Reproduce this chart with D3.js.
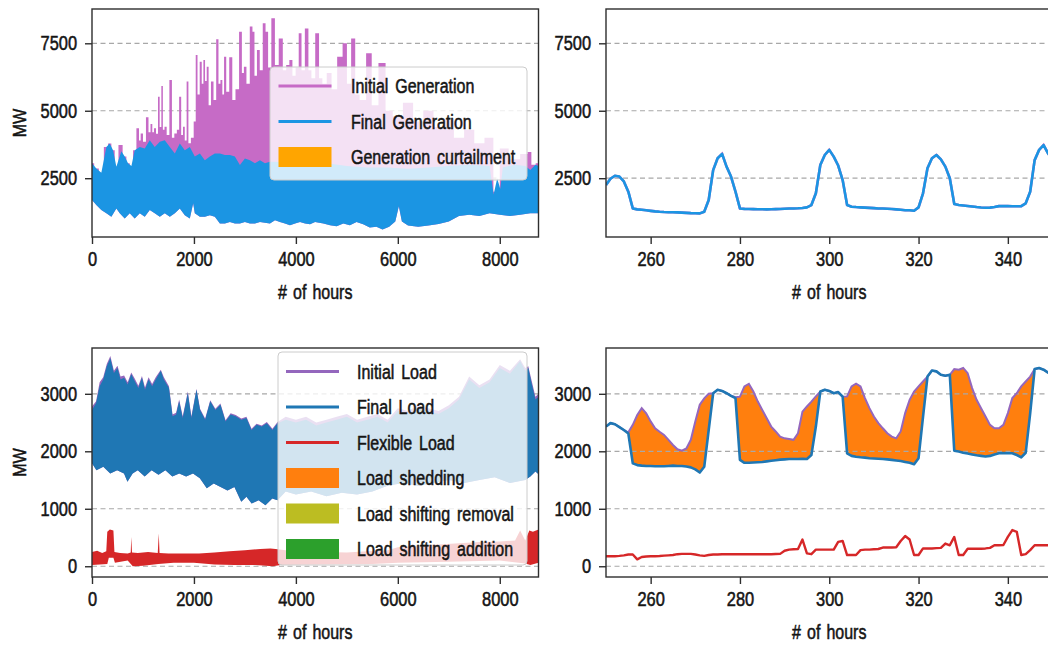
<!DOCTYPE html>
<html>
<head>
<meta charset="utf-8">
<script src="https://cdn.jsdelivr.net/npm/d3@7"></script>
<style>
  html, body { margin: 0; padding: 0; background: #fff; }
  svg { display: block; }
  text { font-family: "Liberation Sans", Arial, sans-serif; fill: #151515; stroke: #151515; stroke-width: 0.55px; }
</style>
</head>
<body>
<svg id="chart" width="1048" height="646"></svg>
<script>
// ---------- Year-long generation (envelopes of the hourly series, MW) ----------
const genInitialPeakHours = [0, 85, 183, 282, 347, 413, 478, 560, 642, 707, 773, 838, 904, 940, 970, 1030, 1087, 1130, 1166, 1200, 1231, 1280, 1310, 1345, 1376, 1405, 1440, 1490, 1546, 1590, 1640, 1690, 1729, 1770, 1800, 1840, 1873, 1910, 1970, 2020, 2050, 2090, 2136, 2170, 2201, 2235, 2266, 2310, 2358, 2410, 2463, 2500, 2540, 2575, 2607, 2660, 2725, 2780, 2850, 2921, 2960, 3000, 3060, 3131, 3165, 3210, 3262, 3320, 3380, 3430, 3480, 3557, 3620, 3707, 3780, 3840, 3904, 3960, 4030, 4081, 4140, 4212, 4280, 4330, 4429, 4480, 4560, 4650, 4750, 4870, 4963, 5040, 5128, 5200, 5300, 5456, 5520, 5720, 5800, 6000, 6200, 6400, 6600, 6800, 7000, 7200, 7400, 7600, 7800, 7950, 8050, 8300, 8500, 8590, 8650, 8760];
const genInitialPeakMW = [3050, 2860, 2700, 3660, 3790, 3540, 2920, 3730, 3300, 3050, 2950, 3540, 4350, 3900, 4160, 3850, 4760, 4200, 4510, 4200, 4350, 4150, 5520, 4400, 5920, 4300, 4410, 4100, 6140, 4000, 4160, 4300, 5520, 4100, 4410, 3900, 6080, 3800, 4000, 4600, 7070, 5600, 6820, 6000, 6880, 6100, 6630, 5200, 6080, 5400, 7650, 6000, 6140, 5600, 7000, 5700, 6980, 5400, 5800, 7930, 6400, 6630, 6000, 8120, 7930, 6300, 7250, 6500, 8240, 7930, 6600, 8430, 6700, 7680, 6500, 6700, 6880, 6300, 6600, 7870, 6500, 8050, 6500, 6200, 7870, 6200, 6000, 6400, 5800, 7000, 7500, 6000, 7680, 5600, 5400, 7130, 5200, 6770, 5000, 4800, 5300, 4600, 5000, 4400, 4700, 4000, 4300, 3800, 4000, 2000, 3600, 3200, 3400, 3470, 3000, 3050];

const genFinalHighHours = [0, 85, 183, 282, 347, 413, 478, 576, 642, 707, 773, 838, 937, 1035, 1133, 1231, 1330, 1428, 1527, 1625, 1723, 1821, 1919, 2017, 2116, 2214, 2312, 2410, 2509, 2607, 2705, 2803, 2902, 3000, 3098, 3197, 3295, 3393, 3491, 3700, 4000, 4300, 4600, 5000, 5400, 5800, 6200, 6600, 7000, 7400, 7800, 7880, 7950, 8010, 8060, 8300, 8500, 8600, 8700, 8760];
const genFinalHighMW = [3050, 2860, 2700, 3660, 3790, 3540, 2920, 3500, 3300, 3050, 2950, 3540, 3660, 3600, 3910, 3660, 3850, 3910, 3660, 3420, 3790, 3540, 3660, 3300, 3420, 3170, 3300, 3420, 3420, 3360, 3360, 3300, 2990, 3230, 3170, 3050, 3170, 3050, 3110, 3100, 3150, 3000, 3050, 2950, 2900, 2900, 2850, 2900, 2950, 3000, 2950, 1900, 2500, 2100, 2900, 3000, 2950, 2800, 3000, 2950];

const genFinalLowHours = [0, 85, 183, 282, 380, 478, 544, 642, 740, 838, 937, 1035, 1133, 1231, 1330, 1428, 1527, 1625, 1723, 1821, 1919, 1985, 2017, 2116, 2214, 2312, 2410, 2509, 2607, 2705, 2803, 2902, 3000, 3098, 3197, 3295, 3393, 3491, 3590, 3688, 3786, 3884, 3983, 4081, 4180, 4278, 4376, 4540, 4670, 4800, 4930, 5060, 5190, 5320, 5450, 5580, 5700, 5830, 5950, 6020, 6080, 6200, 6400, 6600, 6800, 7000, 7200, 7400, 7600, 7800, 8000, 8200, 8400, 8600, 8760];
const genFinalLowMW = [1690, 1510, 1320, 1200, 1070, 1380, 1200, 1010, 1200, 1010, 1200, 1070, 1320, 1200, 1070, 1200, 1070, 1200, 1380, 1130, 1010, 1570, 1200, 1070, 1070, 1130, 1070, 820, 820, 880, 820, 820, 880, 820, 820, 880, 850, 820, 940, 880, 820, 760, 820, 880, 820, 790, 880, 820, 760, 720, 820, 760, 880, 790, 670, 700, 600, 700, 900, 1460, 900, 750, 700, 750, 800, 900, 1100, 1150, 1100, 1200, 1150, 1100, 1150, 1200, 1200];

// ---------- Year-long load (envelopes of the hourly series, MW) ----------
const loadHighHours = [0, 80, 150, 220, 290, 360, 430, 500, 560, 630, 700, 770, 840, 910, 980, 1040, 1110, 1180, 1250, 1350, 1410, 1510, 1580, 1650, 1710, 1780, 1880, 1950, 2050, 2120, 2220, 2320, 2420, 2520, 2620, 2720, 2820, 2930, 3030, 3130, 3230, 3330, 3430, 3540, 3640, 3800, 4000, 4200, 4400, 4600, 4800, 5000, 5200, 5400, 5600, 5800, 6000, 6200, 6400, 6600, 6800, 7000, 7200, 7400, 7600, 7800, 8000, 8200, 8400, 8500, 8560, 8620, 8700, 8760];
const finalLoadHighMW = [2720, 2840, 3130, 3250, 3480, 3620, 3360, 3450, 3250, 3280, 3160, 3340, 3220, 3100, 3280, 3070, 3250, 3130, 3250, 3400, 3250, 3100, 2610, 2640, 2870, 2580, 3010, 2580, 3070, 2720, 2550, 2870, 2720, 2810, 2520, 2640, 2610, 2550, 2580, 2370, 2460, 2430, 2490, 2370, 2490, 2550, 2500, 2550, 2450, 2500, 2550, 2600, 2500, 2550, 2600, 2500, 2700, 2650, 2750, 2700, 2650, 2750, 2900, 3250, 3100, 3200, 3450, 3350, 3570, 3400, 3450, 3200, 2900, 2950];
const initialLoadHighMW = [2780, 2870, 3200, 3290, 3520, 3660, 3400, 3490, 3300, 3320, 3200, 3370, 3260, 3140, 3310, 3110, 3290, 3170, 3290, 3420, 3290, 3130, 2640, 2670, 2900, 2610, 3040, 2610, 3090, 2740, 2570, 2890, 2740, 2830, 2540, 2660, 2630, 2570, 2600, 2390, 2480, 2450, 2510, 2390, 2510, 2600, 2550, 2600, 2500, 2550, 2600, 2650, 2550, 2600, 2650, 2550, 2750, 2700, 2800, 2750, 2700, 2800, 2950, 3300, 3150, 3250, 3500, 3400, 3600, 3450, 3480, 3250, 2950, 3000];

const loadLowHours = [0, 87, 222, 358, 493, 628, 696, 797, 898, 1034, 1169, 1305, 1440, 1576, 1711, 1847, 1981, 2116, 2252, 2387, 2523, 2658, 2794, 2928, 3030, 3132, 3268, 3403, 3537, 3639, 3800, 4000, 4300, 4600, 4900, 5200, 5500, 5800, 6100, 6400, 6700, 7000, 7300, 7600, 7900, 8200, 8500, 8600, 8700, 8760];
const finalLoadLowMW = [1790, 1670, 1730, 1615, 1670, 1615, 1470, 1615, 1670, 1560, 1670, 1590, 1670, 1560, 1615, 1560, 1615, 1530, 1355, 1440, 1380, 1320, 1380, 1120, 1210, 1090, 1150, 1060, 1180, 1150, 1300, 1250, 1300, 1220, 1280, 1250, 1300, 1400, 1450, 1400, 1450, 1500, 1450, 1500, 1550, 1450, 1500, 1560, 1650, 1600];

const flexHighHours = [0, 100, 200, 280, 300, 350, 420, 440, 550, 700, 760, 770, 785, 900, 1100, 1290, 1310, 1325, 1500, 1800, 2100, 2400, 2700, 3000, 3300, 3500, 3600, 3800, 4200, 4600, 5000, 5400, 5800, 6000, 6400, 6800, 7200, 7600, 8000, 8300, 8400, 8500, 8580, 8650, 8760];
const flexHighMW = [250, 270, 230, 260, 600, 640, 620, 250, 230, 220, 240, 510, 240, 230, 250, 230, 570, 230, 220, 220, 220, 240, 260, 280, 300, 310, 300, 280, 260, 250, 240, 260, 280, 330, 360, 380, 400, 420, 430, 450, 620, 450, 620, 600, 640];
const flexLowHours = [0, 300, 330, 420, 450, 700, 800, 1000, 1300, 1600, 2000, 2400, 2800, 3200, 3550, 3700, 4500, 5500, 6000, 7000, 8000, 8500, 8600, 8760];
const flexLowMW = [20, 40, 150, 150, 60, 100, 0, 10, 40, 60, 60, 30, 20, 20, 0, 20, 30, 40, 60, 80, 100, 50, 20, 60];

// ---------- Hours 250-350 in detail (MW, one value per hour) ----------
const detailStartHour = 250;
const finalGenDetailMW = [2250, 2480, 2590, 2560, 2380, 2000, 1380, 1345, 1330, 1310, 1290, 1270, 1255, 1245, 1240, 1240, 1235, 1225, 1215, 1205, 1200, 1197, 1260, 1690, 2800, 3240, 3400, 2930, 2560, 2000, 1380, 1365, 1360, 1355, 1350, 1350, 1345, 1350, 1355, 1360, 1370, 1375, 1380, 1385, 1395, 1420, 1505, 1940, 2990, 3360, 3550, 3300, 2970, 2430, 1505, 1445, 1430, 1420, 1410, 1400, 1390, 1380, 1375, 1370, 1360, 1345, 1330, 1315, 1310, 1295, 1420, 1940, 2870, 3240, 3360, 3200, 2930, 2500, 1545, 1505, 1490, 1470, 1450, 1430, 1415, 1405, 1410, 1430, 1465, 1470, 1465, 1460, 1460, 1465, 1570, 2000, 3170, 3550, 3730, 3420, 3200];
// no curtailment in this window: initial generation equals final generation
const initialGenDetailMW = finalGenDetailMW.slice();
const initialLoadDetailMW = [2430, 2490, 2470, 2420, 2370, 2330, 2460, 2630, 2750, 2660, 2520, 2400, 2340, 2285, 2200, 2110, 2035, 2010, 2050, 2200, 2520, 2810, 2920, 3000, 3010, 3070, 3050, 3010, 2965, 2940, 2950, 3130, 3175, 3040, 2865, 2720, 2575, 2430, 2345, 2255, 2225, 2215, 2200, 2315, 2690, 2780, 2865, 2955, 3040, 3070, 3050, 3010, 3030, 2950, 2955, 3130, 3175, 3130, 2925, 2750, 2605, 2490, 2400, 2315, 2255, 2225, 2345, 2665, 2895, 3040, 3130, 3215, 3300, 3405, 3390, 3330, 3315, 3330, 3430, 3420, 3450, 3360, 3100, 2895, 2750, 2605, 2460, 2400, 2400, 2460, 2665, 2925, 3010, 3130, 3215, 3300, 3430, 3450, 3420, 3370, 3340];
const finalLoadDetailMW = [2430, 2490, 2470, 2420, 2370, 2310, 1790, 1760, 1750, 1745, 1745, 1740, 1740, 1740, 1745, 1750, 1745, 1745, 1735, 1720, 1685, 1630, 1730, 2370, 3010, 3070, 3050, 3010, 2965, 2925, 1850, 1800, 1800, 1805, 1810, 1815, 1825, 1835, 1845, 1855, 1860, 1865, 1865, 1865, 1870, 1865, 1935, 2430, 3040, 3070, 3050, 3010, 3030, 2950, 1965, 1920, 1905, 1895, 1890, 1880, 1875, 1870, 1865, 1860, 1850, 1840, 1830, 1815, 1800, 1775, 1880, 2600, 3300, 3405, 3390, 3330, 3315, 3330, 2010, 1995, 1975, 1960, 1945, 1930, 1920, 1910, 1920, 1945, 1965, 1970, 1965, 1965, 1935, 1895, 1975, 2660, 3430, 3450, 3420, 3370, 3340];
const flexLoadDetailMW = [174, 174, 174, 180, 190, 205, 205, 120, 160, 170, 175, 175, 178, 185, 190, 195, 210, 215, 215, 215, 205, 190, 180, 195, 205, 205, 208, 210, 210, 210, 210, 210, 210, 210, 210, 210, 210, 210, 212, 215, 270, 290, 295, 300, 465, 225, 210, 290, 290, 290, 290, 290, 425, 440, 195, 195, 195, 280, 290, 290, 295, 300, 325, 325, 325, 330, 440, 525, 465, 195, 195, 310, 310, 310, 315, 320, 395, 365, 510, 195, 195, 305, 305, 305, 305, 310, 320, 365, 365, 370, 510, 630, 600, 195, 210, 280, 365, 365, 365, 365, 365];

// ---------- Axes ticks and text ----------
const yearTicks = [0, 2000, 4000, 6000, 8000];
const detailTicks = [260, 280, 300, 320, 340];
const genTicks = [2500, 5000, 7500];
const loadTicks = [0, 1000, 2000, 3000];
const xLabel = "#  of  hours";
const yLabel = "MW";
const genLegendLabels = ["Initial Generation", "Final Generation", "Generation curtailment"];
const loadLegendLabels = ["Initial Load", "Final Load", "Flexible Load", "Load shedding", "Load shifting removal", "Load shifting addition"];

// ---------- Colours ----------
const C = {
  initGen: "#c66bc6",
  finalGen: "#1b95e3",
  curtail: "#ffa500",
  initLoad: "#9467bd",
  finalLoad: "#1f77b4",
  flex: "#d62728",
  shed: "#ff7f0e",
  shiftRemove: "#bcbd22",
  shiftAdd: "#2ca02c",
  grid: "#a8a8a8",
  frame: "#2e2e2e"
};

const svg = d3.select("#chart");

// Scales
const xYear = d3.scaleLinear().domain([0, 8760]).range([92, 538.5]);
const xDetail = d3.scaleLinear().domain([250, 350]).range([606, 1052.5]);
const yGen = d3.scaleLinear().domain([321, 8771]).range([237, 9]);
const yLoad = d3.scaleLinear().domain([-187, 3797]).range([577, 348]);

const detailHours = finalGenDetailMW.map((_, i) => detailStartHour + i);

function pairs(hours, values) { return hours.map((h, i) => [h, values[i]]); }

// narrow the glyphs of a text selection (condensed face)
function squeeze(sel, k) {
  sel.each(function () {
    const L = this.getComputedTextLength();
    d3.select(this).attr("textLength", L * k).attr("lengthAdjust", "spacingAndGlyphs");
  });
}

// closed polygon between an upper and a lower envelope
function bandPath(x, y, upper, lower, upperCurve) {
  const top = d3.line().x(d => x(d[0])).y(d => y(d[1])).curve(upperCurve || d3.curveLinear)(upper);
  const bottom = d3.line().x(d => x(d[0])).y(d => y(d[1]))(lower.slice().reverse());
  return top + "L" + bottom.slice(1) + "Z";
}

function clipFor(id, x, y) {
  const [x0, x1] = x.range(), [y0, y1] = [y.range()[1], y.range()[0]];
  svg.append("clipPath").attr("id", id).append("rect")
    .attr("x", x0).attr("y", y0).attr("width", x1 - x0).attr("height", y1 - y0);
  return `url(#${id})`;
}

function grid(g, x, y, ticks) {
  g.append("g").selectAll("line").data(ticks).join("line")
    .attr("x1", x.range()[0]).attr("x2", x.range()[1])
    .attr("y1", d => y(d)).attr("y2", d => y(d))
    .attr("stroke", C.grid).attr("stroke-width", 1.2)
    .attr("stroke-dasharray", "5,3.5");
}

function axes(x, y, xt, yt) {
  const [x0, x1] = x.range(), [yb, yt0] = y.range();
  const ax = svg.append("g");
  ax.append("g").attr("transform", `translate(0,${yb})`)
    .call(d3.axisBottom(x).tickValues(xt).tickFormat(d3.format("d")).tickSize(7).tickPadding(8).tickSizeOuter(0))
    .call(g => g.select(".domain").remove());
  ax.append("g").attr("transform", `translate(${x0},0)`)
    .call(d3.axisLeft(y).tickValues(yt).tickFormat(d3.format("d")).tickSize(7).tickPadding(8).tickSizeOuter(0))
    .call(g => g.select(".domain").remove());
  ax.selectAll("g").attr("font-family", null).attr("font-size", null);
  ax.selectAll(".tick line").attr("stroke", C.frame).attr("stroke-width", 1.4);
  ax.selectAll(".tick text").attr("font-size", 20).attr("fill", "#151515").call(squeeze, 0.82);
  svg.append("rect").attr("x", x0).attr("y", yt0).attr("width", x1 - x0).attr("height", yb - yt0)
    .attr("fill", "none").attr("stroke", C.frame).attr("stroke-width", 1.4);
  svg.append("text").attr("x", (x0 + Math.min(x1, 1052.5)) / 2).attr("y", yb + 62)
    .attr("text-anchor", "middle").attr("font-size", 20).style("word-spacing", "2px").text(xLabel)
    .call(squeeze, 0.8);
}

function yTitle(y) {
  const cy = (y.range()[0] + y.range()[1]) / 2;
  svg.append("text").attr("transform", `translate(19,${cy}) rotate(-90)`)
    .attr("text-anchor", "middle").attr("dominant-baseline", "central")
    .attr("font-size", 19).text(yLabel).call(squeeze, 0.85);
}

function legend(x, y, w, h, labels, kinds, colors, handleX, textX, rowY0, rowStep) {
  const g = svg.append("g");
  g.append("rect").attr("x", x).attr("y", y).attr("width", w).attr("height", h).attr("rx", 4)
    .attr("fill", "#fff").attr("fill-opacity", 0.8).attr("stroke", "#cccccc").attr("stroke-width", 1);
  labels.forEach((lab, i) => {
    const cy = rowY0 + i * rowStep;
    if (kinds[i] === "line") {
      g.append("line").attr("x1", handleX).attr("x2", handleX + 53).attr("y1", cy).attr("y2", cy)
        .attr("stroke", colors[i]).attr("stroke-width", 3);
    } else {
      g.append("rect").attr("x", handleX).attr("y", cy - 10).attr("width", 53).attr("height", 20)
        .attr("fill", colors[i]);
    }
    g.append("text").attr("x", textX).attr("y", cy).attr("dominant-baseline", "central")
      .attr("font-size", 20).style("word-spacing", "3px").text(lab).call(squeeze, 0.8);
  });
}

// ===== Panel 1: yearly generation =====
{
  const g = svg.append("g");
  grid(g, xYear, yGen, genTicks);
  const cp = clipFor("clipGenYear", xYear, yGen);
  const lower = pairs(genFinalLowHours, genFinalLowMW);
  g.append("path").attr("clip-path", cp).attr("fill", C.initGen)
    .attr("d", bandPath(xYear, yGen, pairs(genInitialPeakHours, genInitialPeakMW), lower, d3.curveStep));
  g.append("path").attr("clip-path", cp).attr("fill", C.finalGen)
    .attr("d", bandPath(xYear, yGen, pairs(genFinalHighHours, genFinalHighMW), lower));
  axes(xYear, yGen, yearTicks, genTicks);
  yTitle(yGen);
  legend(270, 67, 257, 113, genLegendLabels, ["line", "line", "patch"],
    [C.initGen, C.finalGen, C.curtail], 278.5, 351, 86, 35.5);
}

// ===== Panel 2: generation, hours 250-350 =====
{
  const g = svg.append("g");
  grid(g, xDetail, yGen, genTicks);
  const cp = clipFor("clipGenDetail", xDetail, yGen);
  const line = d3.line().x((d, i) => xDetail(detailHours[i])).y(d => yGen(d));
  g.append("path").attr("clip-path", cp).attr("fill", "none").attr("stroke", C.initGen)
    .attr("stroke-width", 2.6).attr("d", line(initialGenDetailMW));
  g.append("path").attr("clip-path", cp).attr("fill", "none").attr("stroke", C.finalGen)
    .attr("stroke-width", 2.6).attr("stroke-linejoin", "round").attr("d", line(finalGenDetailMW));
  axes(xDetail, yGen, detailTicks, genTicks);
}

// ===== Panel 3: yearly load =====
{
  const g = svg.append("g");
  grid(g, xYear, yLoad, loadTicks);
  const cp = clipFor("clipLoadYear", xYear, yLoad);
  const lower = pairs(loadLowHours, finalLoadLowMW);
  g.append("path").attr("clip-path", cp).attr("fill", C.initLoad)
    .attr("d", bandPath(xYear, yLoad, pairs(loadHighHours, initialLoadHighMW), lower));
  g.append("path").attr("clip-path", cp).attr("fill", C.finalLoad)
    .attr("d", bandPath(xYear, yLoad, pairs(loadHighHours, finalLoadHighMW), lower));
  g.append("path").attr("clip-path", cp).attr("fill", C.flex)
    .attr("d", bandPath(xYear, yLoad, pairs(flexHighHours, flexHighMW), pairs(flexLowHours, flexLowMW)));
  axes(xYear, yLoad, yearTicks, loadTicks);
  yTitle(yLoad);
  legend(278, 352, 249, 213, loadLegendLabels, ["line", "line", "line", "patch", "patch", "patch"],
    [C.initLoad, C.finalLoad, C.flex, C.shed, C.shiftRemove, C.shiftAdd], 286, 357, 371.5, 35.5);
}

// ===== Panel 4: load, hours 250-350 =====
{
  const g = svg.append("g");
  const cp = clipFor("clipLoadDetail", xDetail, yLoad);
  // load shedding: between initial and final load
  const area = d3.area().x((d, i) => xDetail(detailHours[i]))
    .y0((d, i) => yLoad(finalLoadDetailMW[i])).y1(d => yLoad(d));
  g.append("path").attr("clip-path", cp).attr("fill", C.shed).attr("d", area(initialLoadDetailMW));
  grid(g, xDetail, yLoad, loadTicks);
  const line = d3.line().x((d, i) => xDetail(detailHours[i])).y(d => yLoad(d));
  g.append("path").attr("clip-path", cp).attr("fill", "none").attr("stroke", C.initLoad)
    .attr("stroke-width", 2).attr("d", line(initialLoadDetailMW));
  g.append("path").attr("clip-path", cp).attr("fill", "none").attr("stroke", C.finalLoad)
    .attr("stroke-width", 2.6).attr("stroke-linejoin", "round").attr("d", line(finalLoadDetailMW));
  g.append("path").attr("clip-path", cp).attr("fill", "none").attr("stroke", C.flex)
    .attr("stroke-width", 2.4).attr("stroke-linejoin", "round").attr("d", line(flexLoadDetailMW));
  axes(xDetail, yLoad, detailTicks, loadTicks);
}
</script>
</body>
</html>
